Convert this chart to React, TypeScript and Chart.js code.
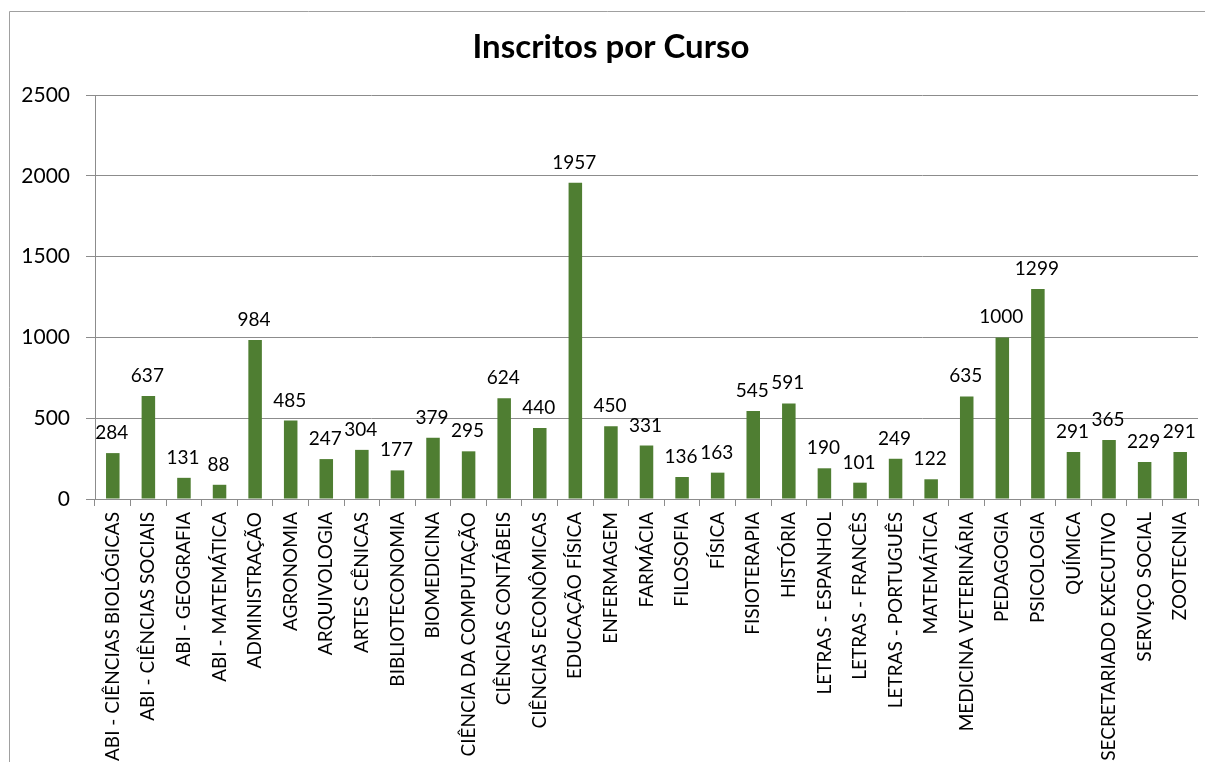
import React, { useEffect, useRef } from "react";
import { Chart, registerables } from "chart.js";

Chart.register(...registerables);

const TITLE = "Inscritos por Curso";

const categories: string[] = [
  "ABI - CIÊNCIAS BIOLÓGICAS",
  "ABI - CIÊNCIAS SOCIAIS",
  "ABI - GEOGRAFIA",
  "ABI - MATEMÁTICA",
  "ADMINISTRAÇÃO",
  "AGRONOMIA",
  "ARQUIVOLOGIA",
  "ARTES CÊNICAS",
  "BIBLIOTECONOMIA",
  "BIOMEDICINA",
  "CIÊNCIA DA COMPUTAÇÃO",
  "CIÊNCIAS CONTÁBEIS",
  "CIÊNCIAS ECONÔMICAS",
  "EDUCAÇÃO FÍSICA",
  "ENFERMAGEM",
  "FARMÁCIA",
  "FILOSOFIA",
  "FÍSICA",
  "FISIOTERAPIA",
  "HISTÓRIA",
  "LETRAS - ESPANHOL",
  "LETRAS - FRANCÊS",
  "LETRAS - PORTUGUÊS",
  "MATEMÁTICA",
  "MEDICINA VETERINÁRIA",
  "PEDAGOGIA",
  "PSICOLOGIA",
  "QUÍMICA",
  "SECRETARIADO EXECUTIVO",
  "SERVIÇO SOCIAL",
  "ZOOTECNIA",
];

const inscritos: number[] = [
  284, 637, 131, 88, 984, 485, 247, 304, 177, 379, 295, 624, 440, 1957, 450,
  331, 136, 163, 545, 591, 190, 101, 249, 122, 635, 1000, 1299, 291, 365, 229,
  291,
];

const yTicks: number[] = [0, 500, 1000, 1500, 2000, 2500];

const FONT = "Lato, 'Open Sans', 'DejaVu Sans', sans-serif";
const BAR_COLOR = "#4F7E32";
const GRID_COLOR = "#8C8C8C";

const framePlugin = {
  id: "frameAndTitle",
  beforeDraw(chart: any) {
    const ctx = chart.ctx;
    ctx.save();
    ctx.fillStyle = "#ffffff";
    ctx.fillRect(0, 0, chart.width, chart.height);
    ctx.strokeStyle = "#A0A0A0";
    ctx.lineWidth = 1;
    ctx.beginPath();
    ctx.moveTo(9.5, chart.height + 2);
    ctx.lineTo(9.5, 11.5);
    ctx.lineTo(chart.width + 2, 11.5);
    ctx.stroke();
    ctx.fillStyle = "#000000";
    ctx.font = `bold 33px ${FONT}`;
    ctx.textAlign = "center";
    ctx.textBaseline = "middle";
    ctx.fillText(TITLE, 611, 47);
    ctx.restore();
  },
};

const dataLabelPlugin = {
  id: "dataLabels",
  afterDatasetsDraw(chart: any) {
    const ctx = chart.ctx;
    const meta = chart.getDatasetMeta(0);
    const values = chart.data.datasets[0].data as number[];
    ctx.save();
    ctx.fillStyle = "#000000";
    ctx.font = `19px ${FONT}`;
    ctx.textAlign = "center";
    ctx.textBaseline = "alphabetic";
    meta.data.forEach((bar: any, i: number) => {
      ctx.fillText(String(values[i]), bar.x - 1, bar.y - 14);
    });
    ctx.restore();
  },
};

export default function App() {
  const canvasRef = useRef<HTMLCanvasElement | null>(null);

  useEffect(() => {
    if (!canvasRef.current) return;
    const chart = new Chart(canvasRef.current, {
      type: "bar",
      data: {
        labels: categories,
        datasets: [
          {
            label: "Inscritos",
            data: inscritos,
            backgroundColor: BAR_COLOR,
            borderWidth: 0,
            barPercentage: 1,
            categoryPercentage: 0.38,
          },
        ],
      },
      options: {
        responsive: false,
        animation: false,
        devicePixelRatio: 1,
        layout: { padding: { left: 0, top: 95, right: 7, bottom: 0 } },
        plugins: {
          legend: { display: false },
          title: { display: false },
          tooltip: { enabled: false },
        },
        scales: {
          y: {
            min: 0,
            max: 2500,
            afterFit(scale: any) {
              scale.width = 95;
              scale.paddingTop = 0;
              scale.paddingBottom = 0;
            },
            afterBuildTicks(scale: any) {
              scale.ticks = yTicks.map((v) => ({ value: v }));
            },
            ticks: {
              color: "#000000",
              font: { family: FONT, size: 21 },
              padding: 16,
              callback: (v: any) => String(v),
            },
            grid: {
              color: GRID_COLOR,
              lineWidth: 1,
              tickLength: 9,
              drawTicks: true,
            },
            border: { display: true, color: GRID_COLOR, width: 1 },
          },
          x: {
            afterFit(scale: any) {
              scale.height = 263;
              scale.paddingLeft = 0;
              scale.paddingRight = 0;
            },
            ticks: {
              color: "#000000",
              font: { family: FONT, size: 19 },
              minRotation: 90,
              maxRotation: 90,
              autoSkip: false,
              padding: 6,
            },
            grid: {
              display: true,
              drawOnChartArea: false,
              drawTicks: true,
              tickLength: 7,
              color: GRID_COLOR,
              offset: true,
            },
            border: { display: true, color: GRID_COLOR, width: 1 },
          },
        },
      },
      plugins: [framePlugin, dataLabelPlugin],
    });
    return () => chart.destroy();
  }, []);

  return (
    <div
      style={{
        position: "fixed",
        left: 0,
        top: 0,
        width: 1205,
        height: 762,
        background: "#ffffff",
      }}
    >
      <canvas
        ref={canvasRef}
        width={1205}
        height={762}
        style={{ width: 1205, height: 762, display: "block" }}
      />
    </div>
  );
}
